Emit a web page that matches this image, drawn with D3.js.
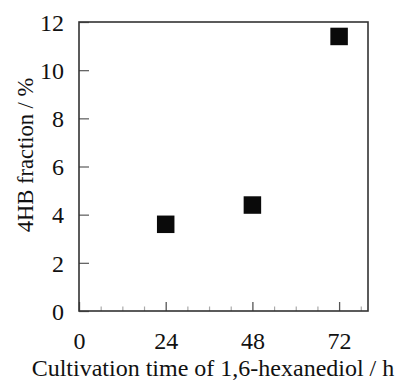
<!DOCTYPE html>
<html>
<head>
<meta charset="utf-8">
<script src="https://cdn.jsdelivr.net/npm/d3@7"></script>
<style>
  html, body { margin: 0; padding: 0; background: #fff; }
  svg { display: block; }
  text { font-family: "Liberation Serif", "Times New Roman", serif; fill: #111; }
</style>
</head>
<body>
<svg id="chart"></svg>
<script>
// data
const hours = [24, 48, 72];
const fraction = [3.6, 4.4, 11.4];
const xTickValues = [0, 24, 48, 72];
const xMinorTicks = [6, 12, 18, 30, 36, 42, 54, 60, 66, 78];
const yTickValues = [0, 2, 4, 6, 8, 10, 12];
const xTitle = "Cultivation time of 1,6-hexanediol / h";
const yTitle = "4HB fraction / %";

const width = 407;
const height = 382;
const plotLeft = 79, plotRight = 368, plotTop = 22, plotBottom = 311;

const svg = d3.select("#chart").attr("width", width).attr("height", height);

const x = d3.scaleLinear().domain([0, 80]).range([plotLeft, plotRight]);
const y = d3.scaleLinear().domain([0, 12]).range([plotBottom, plotTop]);

// minor ticks on x (inward, short, light)
svg.append("g")
  .attr("transform", `translate(0,${plotBottom})`)
  .call(d3.axisBottom(x).tickValues(xMinorTicks).tickSize(-4.5).tickFormat(""))
  .call(g => g.select(".domain").remove())
  .call(g => g.selectAll("line").attr("stroke", "#aaa").attr("stroke-width", 1.2));

// major x ticks + labels
svg.append("g")
  .attr("transform", `translate(0,${plotBottom})`)
  .call(d3.axisBottom(x).tickValues(xTickValues).tickSize(-9).tickPadding(0))
  .call(g => g.select(".domain").remove())
  .call(g => g.selectAll("line").attr("stroke", "#555").attr("stroke-width", 1.3))
  .call(g => g.selectAll("text")
    .attr("y", 38).attr("dy", null)
    .attr("fill", "#111")
    .style("font-size", "24px"));

// y axis (ticks inward)
svg.append("g")
  .attr("transform", `translate(${plotLeft},0)`)
  .call(d3.axisLeft(y).tickValues(yTickValues).tickSize(-10).tickPadding(0))
  .call(g => g.select(".domain").remove())
  .call(g => g.selectAll("line").attr("stroke", "#666").attr("stroke-width", 1.3))
  .call(g => g.selectAll("text")
    .attr("x", -15).attr("dy", "0.34em")
    .attr("fill", "#111")
    .style("font-size", "24px"));

// frame
svg.append("rect")
  .attr("x", plotLeft).attr("y", plotTop)
  .attr("width", plotRight - plotLeft).attr("height", plotBottom - plotTop)
  .attr("fill", "none").attr("stroke", "#333").attr("stroke-width", 1.6);

// markers
const sq = 17.5;
svg.append("g")
  .selectAll("rect")
  .data(hours.map((h, i) => ({ h, v: fraction[i] })))
  .join("rect")
  .attr("x", d => x(d.h) - sq / 2)
  .attr("y", d => y(d.v) - sq / 2)
  .attr("width", sq).attr("height", sq)
  .attr("fill", "#0a0a0a");

// axis titles
svg.append("text")
  .attr("x", 213).attr("y", 376)
  .attr("text-anchor", "middle")
  .style("font-size", "24px")
  .text(xTitle);

svg.append("text")
  .attr("transform", "translate(33,155) rotate(-90)")
  .attr("text-anchor", "middle")
  .style("font-size", "22.5px")
  .text(yTitle);
</script>
</body>
</html>
